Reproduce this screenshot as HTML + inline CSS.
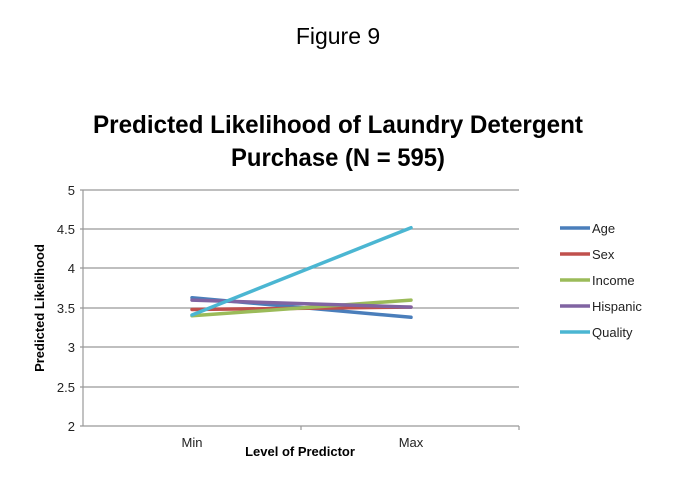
<!DOCTYPE html>
<html><head><style>body{margin:0;background:#fff}</style></head><body>
<svg width="675" height="493" xmlns="http://www.w3.org/2000/svg" font-family="Liberation Sans, DejaVu Sans, sans-serif">
<rect width="675" height="493" fill="#fff"/>
<text x="338" y="44" text-anchor="middle" font-size="23" fill="#000">Figure 9</text>
<text x="338" y="133" text-anchor="middle" font-size="25" font-weight="bold" fill="#000" textLength="490" lengthAdjust="spacingAndGlyphs">Predicted Likelihood of Laundry Detergent</text>
<text x="338" y="166" text-anchor="middle" font-size="25" font-weight="bold" fill="#000" textLength="214" lengthAdjust="spacingAndGlyphs">Purchase (N = 595)</text>
<g stroke="#999" stroke-width="1.2">
<line x1="80" y1="190" x2="519" y2="190"/><line x1="80" y1="229" x2="519" y2="229"/><line x1="80" y1="268" x2="519" y2="268"/><line x1="80" y1="308" x2="519" y2="308"/><line x1="80" y1="347" x2="519" y2="347"/><line x1="80" y1="387" x2="519" y2="387"/><line x1="80" y1="426" x2="519" y2="426"/>
<line x1="83" y1="190" x2="83" y2="426"/><line x1="301" y1="426" x2="301" y2="430"/><line x1="519" y1="426" x2="519" y2="430"/>
</g>
<g font-size="13" fill="#222" text-anchor="end">
<text x="75" y="195">5</text><text x="75" y="234">4.5</text><text x="75" y="273">4</text><text x="75" y="313">3.5</text><text x="75" y="352">3</text><text x="75" y="392">2.5</text><text x="75" y="431">2</text>
</g>
<text x="192" y="447" text-anchor="middle" font-size="13" fill="#222">Min</text>
<text x="411" y="447" text-anchor="middle" font-size="13" fill="#222">Max</text>
<text x="300" y="456" text-anchor="middle" font-size="13" font-weight="bold" fill="#000">Level of Predictor</text>
<text transform="translate(44,308) rotate(-90)" text-anchor="middle" font-size="13" font-weight="bold" fill="#000">Predicted Likelihood</text>
<g stroke-width="3.5" stroke-linecap="round" fill="none">
<line x1="192" y1="297.7" x2="411" y2="317.3" stroke="#4a7ebb"/>
<line x1="192" y1="309.5" x2="411" y2="307.1" stroke="#c0504d"/>
<line x1="192" y1="315.8" x2="411" y2="300.1" stroke="#9bbb59"/>
<line x1="192" y1="300.1" x2="411" y2="307.1" stroke="#8064a2"/>
<line x1="192" y1="315" x2="411" y2="227.7" stroke="#4bb6d2"/>
</g>
<g stroke-width="3.5">
<line x1="560" y1="228" x2="590" y2="228" stroke="#4a7ebb"/>
<line x1="560" y1="254" x2="590" y2="254" stroke="#c0504d"/>
<line x1="560" y1="280" x2="590" y2="280" stroke="#9bbb59"/>
<line x1="560" y1="306" x2="590" y2="306" stroke="#8064a2"/>
<line x1="560" y1="332" x2="590" y2="332" stroke="#4bb6d2"/>
</g>
<g font-size="13" fill="#222">
<text x="592" y="233">Age</text><text x="592" y="259">Sex</text><text x="592" y="285">Income</text><text x="592" y="311">Hispanic</text><text x="592" y="337">Quality</text>
</g>
</svg>
</body></html>
